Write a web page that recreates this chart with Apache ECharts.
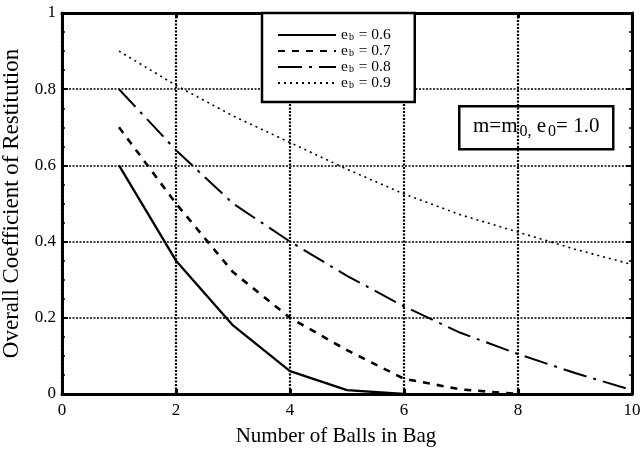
<!DOCTYPE html>
<html>
<head>
<meta charset="utf-8">
<script src="https://cdn.jsdelivr.net/npm/echarts@6/dist/echarts.min.js"></script>
<style>
  html, body { margin: 0; padding: 0; background: #fff; }
  #chart { width: 642px; height: 458px; }
</style>
</head>
<body>
<div id="chart"></div>
<script>
// Number of balls in the bag
const balls = [1, 2, 3, 4, 5, 6, 7, 8, 9, 10];

// Overall coefficient of restitution for each ball-ball restitution e_b
const eb06 = [0.60, 0.35, 0.18, 0.06, 0.01, 0.0];
const eb07 = [0.70, 0.50, 0.32, 0.20, 0.115, 0.04, 0.012, 0.0];
const eb08 = [0.80, 0.64, 0.50, 0.40, 0.31, 0.23, 0.16, 0.105, 0.055, 0.01];
const eb09 = [0.90, 0.81, 0.73, 0.66, 0.59, 0.525, 0.47, 0.425, 0.38, 0.34];

const ebValues = ['0.6', '0.7', '0.8', '0.9'];
const xTicks = [0, 2, 4, 6, 8, 10];
const yTicks = [0, 0.2, 0.4, 0.6, 0.8, 1];

const serif = 'Liberation Serif';

function pairs(vals) {
  return vals.map((v, i) => [balls[i], v]);
}

const lineDefs = [
  { vals: eb06, style: { width: 2.3, type: 'solid' } },
  { vals: eb07, style: { width: 2.6, type: [7, 7] } },
  { vals: eb08, style: { width: 2, type: [24, 7, 3, 7] } },
  { vals: eb09, style: { width: 1.6, type: [2, 4] } }
];

const series = lineDefs.map((d, i) => ({
  name: 'e_b = ' + ebValues[i],
  type: 'line',
  data: pairs(d.vals),
  symbol: 'none',
  color: '#000',
  lineStyle: Object.assign({ color: '#000' }, d.style),
  xAxisIndex: 0,
  yAxisIndex: 0,
  z: 3
}));

const frameLine = { show: true, onZero: false, lineStyle: { color: '#000', width: 3 } };

const chart = echarts.init(document.getElementById('chart'));
chart.setOption({
  backgroundColor: '#fff',
  animation: false,
  textStyle: { fontFamily: serif, color: '#000' },
  grid: { left: 62, right: 10, top: 13, bottom: 64, containLabel: false, outerBoundsMode: 'none' },
  xAxis: [
    {
      type: 'value', min: xTicks[0], max: xTicks[xTicks.length - 1], interval: 2,
      position: 'bottom',
      name: 'Number of Balls in Bag', nameLocation: 'middle', nameGap: 32,
      nameTextStyle: { fontFamily: serif, fontSize: 21, color: '#000', padding: [0, 22, 0, 0] },
      axisLine: frameLine,
      axisTick: { show: true, inside: true, length: 5, lineStyle: { color: '#000', width: 3 } },
      axisLabel: { fontFamily: serif, fontSize: 17, color: '#000', margin: 8 },
      splitLine: { show: true, lineStyle: { color: '#000', width: 2.2, type: [2, 1.5] } }
    },
    {
      type: 'value', min: xTicks[0], max: xTicks[xTicks.length - 1], interval: 2,
      position: 'top',
      axisLine: frameLine,
      axisTick: { show: true, inside: true, length: 5, lineStyle: { color: '#000', width: 3 } },
      axisLabel: { show: false },
      splitLine: { show: false }
    }
  ],
  yAxis: [
    {
      type: 'value', min: yTicks[0], max: yTicks[yTicks.length - 1], interval: 0.2,
      position: 'left',
      name: 'Overall Coefficient of Restitution', nameLocation: 'middle', nameGap: 31,
      nameTextStyle: { fontFamily: serif, fontSize: 23, color: '#000' },
      axisLine: frameLine,
      axisTick: { show: true, inside: true, length: 6, lineStyle: { color: '#000', width: 2 } },
      minorTick: { show: true, splitNumber: 4, length: 3, lineStyle: { color: '#000', width: 1.5 } },
      axisLabel: { fontFamily: serif, fontSize: 17, color: '#000', margin: 6 },
      splitLine: { show: true, lineStyle: { color: '#000', width: 1.6, type: [2, 1.5] } }
    },
    {
      type: 'value', min: yTicks[0], max: yTicks[yTicks.length - 1], interval: 0.2,
      position: 'right',
      axisLine: frameLine,
      axisTick: { show: true, inside: true, length: 6, lineStyle: { color: '#000', width: 2 } },
      minorTick: { show: true, splitNumber: 4, length: 3, lineStyle: { color: '#000', width: 1.5 } },
      axisLabel: { show: false },
      splitLine: { show: false }
    }
  ],
  legend: {
    orient: 'vertical',
    left: 262, top: 13,
    padding: [14, 24, 11, 15],
    itemGap: 0,
    itemWidth: 58, itemHeight: 15,
    backgroundColor: '#fff',
    borderColor: '#000', borderWidth: 2.5, borderRadius: 0,
    itemStyle: { opacity: 0 },
    data: series.map(s => s.name),
    formatter: function (name) {
      const v = name.split('= ')[1];
      return '{e|e}{b|b}{e| = ' + v + '}';
    },
    textStyle: {
      fontFamily: serif, color: '#000',
      rich: {
        e: { fontFamily: serif, fontSize: 15.5, color: '#000', lineHeight: 15 },
        b: { fontFamily: serif, fontSize: 10, color: '#000', lineHeight: 15, padding: [5, 1, 0, 1] }
      }
    }
  },
  graphic: [
    {
      type: 'group', left: 458, top: 105,
      children: [
        { type: 'rect', shape: { x: 0, y: 0, width: 154, height: 43 },
          style: { fill: '#fff', stroke: '#000', lineWidth: 2.5 } },
        { type: 'text', x: 77, y: 20,
          style: {
            text: '{m|m=m}{s|0,}{m| e}{s|0}{m|= 1.0}',
            align: 'center', verticalAlign: 'middle',
            rich: {
              m: { fontFamily: serif, fontSize: 21, fill: '#000', lineHeight: 22 },
              s: { fontFamily: serif, fontSize: 16, fill: '#000', lineHeight: 22, padding: [12, 0, 0, 2] }
            }
          } }
      ]
    }
  ],
  series: series
});
</script>
</body>
</html>
